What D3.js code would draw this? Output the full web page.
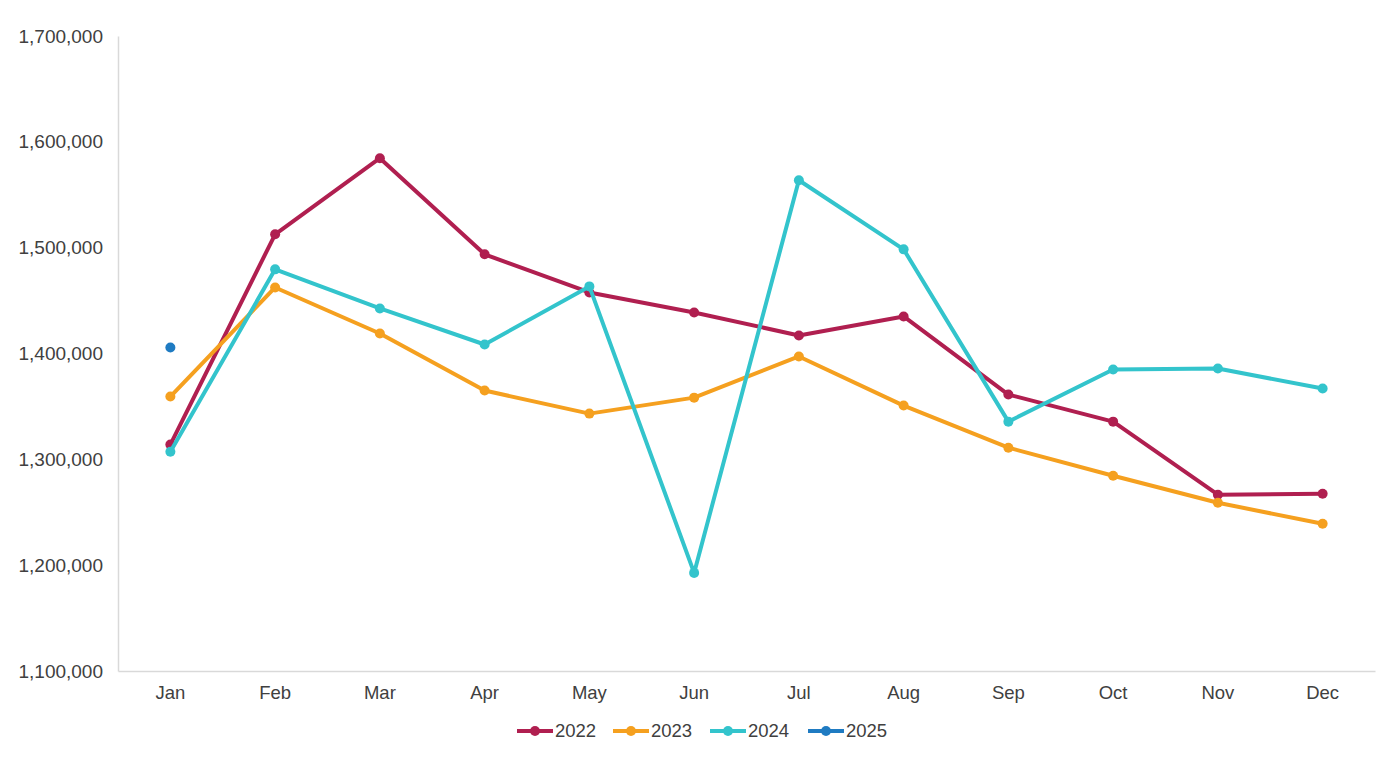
<!doctype html>
<html>
<head>
<meta charset="utf-8"/>
<script src="https://cdnjs.cloudflare.com/ajax/libs/d3/7.8.5/d3.min.js"></script>
<style>
  body { margin: 0; background: #fff; }
  text { font-family: "Liberation Sans", Arial, sans-serif; fill: #404040; }
</style>
</head>
<body>
<svg id="chart" width="1400" height="763"></svg>
<script>
var months = ["Jan","Feb","Mar","Apr","May","Jun","Jul","Aug","Sep","Oct","Nov","Dec"];
var years = ["2022","2023","2024","2025"];
var colors = ["#b01f50","#f5a01f","#33c4cc","#1f7bc2"];
var yTicks = [1100000,1200000,1300000,1400000,1500000,1600000,1700000];

var v2022 = [1313900,1512600,1584500,1493700,1457700,1438800,1417000,1435000,1361200,1335600,1266600,1267500];
var v2023 = [1359300,1462400,1418900,1365000,1343200,1358300,1397200,1350800,1311000,1284500,1259000,1239100];
var v2024 = [1307200,1479500,1442600,1408500,1463400,1192700,1563700,1498400,1335600,1384900,1385800,1366900];
var v2025 = [1405700];

var seriesValues = [v2022, v2023, v2024, v2025];

var svg = d3.select("#chart");
var plotLeft = 118, plotRight = 1375, plotTop = 36, plotBottom = 671;

var x = d3.scaleBand().domain(months).range([plotLeft, plotRight]);
var y = d3.scaleLinear().domain([1100000, 1700000]).range([plotBottom, plotTop]);

// y axis
var yAxis = d3.axisLeft(y).tickValues(yTicks).tickSize(0).tickPadding(15)
  .tickFormat(d3.format(","));
var yG = svg.append("g").attr("transform", "translate(" + plotLeft + ",0)").call(yAxis);
yG.select(".domain").attr("stroke", "#d9d9d9").attr("stroke-width", 1.5);
yG.selectAll("text").style("font-size", "19px").attr("fill", "#404040");

// x axis
var xAxis = d3.axisBottom(x).tickSize(0).tickPadding(15);
var xG = svg.append("g").attr("transform", "translate(0," + plotBottom + ")").call(xAxis);
xG.select(".domain").attr("stroke", "#d9d9d9").attr("stroke-width", 1.5);
xG.selectAll("text").style("font-size", "18.5px").attr("fill", "#404040");

var line = d3.line()
  .x(function(d, i) { return x(months[i]) + x.bandwidth() / 2; })
  .y(function(d) { return y(d); });

seriesValues.forEach(function(vals, si) {
  var g = svg.append("g");
  if (vals.length > 1) {
    g.append("path").datum(vals).attr("d", line)
      .attr("fill", "none").attr("stroke", colors[si])
      .attr("stroke-width", 4).attr("stroke-linejoin", "round");
  }
  g.selectAll("circle").data(vals).enter().append("circle")
    .attr("cx", function(d, i) { return x(months[i]) + x.bandwidth() / 2; })
    .attr("cy", function(d) { return y(d); })
    .attr("r", 5).attr("fill", colors[si]);
});

// legend
var legendX = [517, 613, 710, 808];
var legend = svg.append("g").attr("transform", "translate(0,731)");
years.forEach(function(yr, i) {
  var lg = legend.append("g").attr("transform", "translate(" + legendX[i] + ",0)");
  lg.append("line").attr("x1", 0).attr("x2", 36).attr("y1", 0).attr("y2", 0)
    .attr("stroke", colors[i]).attr("stroke-width", 4);
  lg.append("circle").attr("cx", 18).attr("cy", 0).attr("r", 5).attr("fill", colors[i]);
  lg.append("text").attr("x", 38).attr("y", 0).attr("dy", "0.35em")
    .style("font-size", "18.5px").text(yr);
});
</script>
</body>
</html>
